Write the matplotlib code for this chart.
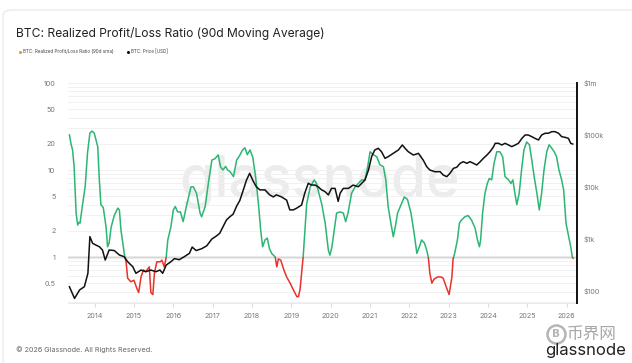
import numpy as np
import matplotlib
matplotlib.use('Agg')
import matplotlib.pyplot as plt
from matplotlib.patches import Rectangle, FancyBboxPatch
from matplotlib.lines import Line2D
from matplotlib.ticker import NullFormatter, FixedLocator

# ---------------- data ----------------
ratio_t = [2013.36, 2013.40, 2013.44, 2013.48, 2013.53, 2013.57, 2013.60, 2013.63, 2013.70, 2013.76,
           2013.82, 2013.88, 2013.93, 2013.99, 2014.08, 2014.12, 2014.16, 2014.22, 2014.29, 2014.33,
           2014.37, 2014.42, 2014.50, 2014.59, 2014.63, 2014.67, 2014.76, 2014.80, 2014.84, 2014.92,
           2015.00, 2015.07, 2015.12, 2015.18, 2015.24, 2015.30, 2015.39, 2015.43, 2015.48, 2015.52,
           2015.58, 2015.67, 2015.71, 2015.77, 2015.82, 2015.86, 2015.94, 2016.00, 2016.05, 2016.11,
           2016.18, 2016.25, 2016.34, 2016.45, 2016.51, 2016.59, 2016.68, 2016.72, 2016.81, 2016.89,
           2016.98, 2017.06, 2017.14, 2017.20, 2017.26, 2017.33, 2017.38, 2017.44, 2017.53, 2017.61,
           2017.68, 2017.76, 2017.82, 2017.88, 2017.95, 2018.02, 2018.08, 2018.12, 2018.17, 2018.22,
           2018.27, 2018.33, 2018.39, 2018.44, 2018.50, 2018.59, 2018.63, 2018.67, 2018.73, 2018.81,
           2018.88, 2018.97, 2019.05, 2019.14, 2019.18, 2019.22, 2019.30, 2019.35, 2019.39, 2019.48,
           2019.58, 2019.64, 2019.70, 2019.77, 2019.86, 2019.94, 2019.98, 2020.03, 2020.09, 2020.15,
           2020.24, 2020.32, 2020.38, 2020.44, 2020.53, 2020.62, 2020.70, 2020.79, 2020.87, 2020.94,
           2021.00, 2021.08, 2021.17, 2021.25, 2021.34, 2021.40, 2021.46, 2021.53, 2021.59, 2021.64,
           2021.70, 2021.80, 2021.87, 2021.95, 2022.04, 2022.12, 2022.19, 2022.25, 2022.31, 2022.38,
           2022.44, 2022.48, 2022.52, 2022.57, 2022.63, 2022.72, 2022.80, 2022.86, 2022.93, 2023.01,
           2023.08, 2023.11, 2023.15, 2023.22, 2023.27, 2023.32, 2023.41, 2023.49, 2023.58, 2023.67,
           2023.73, 2023.78, 2023.81, 2023.86, 2023.92, 2023.98, 2024.03, 2024.09, 2024.15, 2024.22,
           2024.30, 2024.37, 2024.43, 2024.52, 2024.58, 2024.63, 2024.68, 2024.73, 2024.79, 2024.85,
           2024.91, 2024.98, 2025.05, 2025.11, 2025.17, 2025.24, 2025.30, 2025.36, 2025.42, 2025.49,
           2025.55, 2025.61, 2025.68, 2025.74, 2025.80, 2025.86, 2025.92, 2025.98, 2026.05, 2026.10,
           2026.14, 2026.16]
ratio_v = [25.3, 20, 17, 10.9, 3.2, 2.33, 2.5, 2.45, 4.2, 6.4,
           15.7, 26.6, 28, 26.6, 18.5, 7.7, 4.0, 3.7, 2.23, 1.31,
           1.45, 2.2, 3.0, 3.65, 3.47, 2.04, 1.05, 0.88, 0.57, 0.52,
           0.54, 0.44, 0.39, 0.59, 0.71, 0.68, 0.77, 0.39, 0.37, 0.65,
           0.88, 0.88, 0.92, 0.77, 1.0, 1.57, 2.23, 3.47, 3.8, 3.3,
           3.3, 2.55, 3.96, 6.4, 6.4, 5.4, 3.2, 2.9, 3.8, 7.0,
           13.0, 13.5, 14.9, 10.9, 10, 11, 10, 9.6, 8.4, 13,
           14.5, 17, 18, 15, 17, 14, 9.1, 6.4, 3.8, 2.04,
           1.31, 1.57, 1.65, 1.26, 1.1, 1.0, 0.77, 0.95, 0.92, 0.71,
           0.59, 0.5, 0.42, 0.35, 0.35, 0.42, 1.0, 2.23, 4.1, 6.4,
           7.7, 7.0, 5.4, 4.1, 2.44, 1.2, 1.05, 1.3, 2.04, 3.2,
           3.3, 3.2, 2.55, 3.2, 5.4, 6.4, 7.0, 7.7, 7.7, 10.9,
           16.2, 15, 14.2, 11.5, 10.9, 7.7, 3.8, 2.44, 1.71, 2.2,
           3.2, 4.1, 4.9, 4.6, 3.2, 1.87, 1.1, 1.3, 1.57, 1.45,
           1.2, 1.0, 0.65, 0.5, 0.56, 0.59, 0.59, 0.57, 0.46, 0.37,
           0.59, 0.95, 1.1, 1.57, 2.44, 2.65, 2.9, 3.0, 2.65, 2.14,
           1.57, 1.31, 1.57, 3.2, 5.4, 7.0, 8.0, 7.7, 11.9, 16.2,
           16.2, 14.2, 8.4, 7.7, 7.0, 7.7, 5.4, 4.0, 5.4, 10,
           17, 21, 19.5, 13, 8.4, 5.4, 3.47, 5.4, 10, 16.2,
           19.5, 18, 16.2, 14.2, 10, 8, 5.9, 2.44, 1.71, 1.31,
           1.0, 0.97]

price_t = [2013.36, 2013.49, 2013.62, 2013.74, 2013.83, 2013.88, 2013.95, 2014.03, 2014.12, 2014.20,
           2014.27, 2014.37, 2014.50, 2014.63, 2014.75, 2014.84, 2014.97, 2015.05, 2015.18, 2015.30,
           2015.43, 2015.56, 2015.66, 2015.73, 2015.82, 2015.94, 2016.03, 2016.15, 2016.28, 2016.41,
           2016.48, 2016.58, 2016.72, 2016.85, 2016.98, 2017.10, 2017.18, 2017.35, 2017.44, 2017.52,
           2017.61, 2017.69, 2017.78, 2017.86, 2017.94, 2018.03, 2018.11, 2018.20, 2018.33, 2018.45,
           2018.54, 2018.62, 2018.75, 2018.88, 2018.96, 2019.05, 2019.13, 2019.26, 2019.34, 2019.43,
           2019.51, 2019.60, 2019.68, 2019.77, 2019.85, 2019.94, 2020.02, 2020.11, 2020.19, 2020.24,
           2020.32, 2020.45, 2020.57, 2020.70, 2020.79, 2020.87, 2020.96, 2021.04, 2021.12, 2021.21,
           2021.29, 2021.38, 2021.46, 2021.59, 2021.72, 2021.82, 2021.89, 2021.97, 2022.10, 2022.23,
           2022.35, 2022.44, 2022.52, 2022.65, 2022.78, 2022.86, 2022.95, 2023.03, 2023.12, 2023.20,
           2023.29, 2023.37, 2023.46, 2023.54, 2023.63, 2023.71, 2023.80, 2023.88, 2023.97, 2024.05,
           2024.14, 2024.18, 2024.26, 2024.35, 2024.43, 2024.52, 2024.60, 2024.69, 2024.77, 2024.86,
           2024.94, 2025.02, 2025.11, 2025.19, 2025.28, 2025.36, 2025.45, 2025.53, 2025.62, 2025.70,
           2025.79, 2025.87, 2025.96, 2026.04, 2026.10, 2026.15]
price_v = [121, 72, 105, 121, 219, 1110, 826, 767, 711, 614,
           394, 614, 600, 492, 457, 366, 293, 219, 253, 235,
           253, 235, 253, 219, 316, 366, 420, 400, 457, 530,
           700, 600, 650, 740, 1000, 1150, 1290, 2320, 2690, 3000,
           4300, 5500, 8800, 13600, 18300, 13000, 10100, 8800, 8800, 7060,
           6450, 7060, 6450, 5600, 3630, 3630, 3900, 4500, 7600, 11800,
           10900, 10900, 10100, 8800, 8200, 7060, 9400, 9400, 5300, 7600,
           9400, 9400, 10900, 10100, 11800, 13600, 21200, 38400, 51500, 55500,
           47800, 35600, 38300, 44400, 51500, 64300, 55500, 47800, 41200, 44400,
           33000, 24600, 21200, 19700, 19700, 17000, 15800, 18300, 22900, 23900,
           28500, 30700, 28500, 30700, 28500, 26500, 30700, 35600, 41200, 47800,
           59700, 69200, 69200, 64300, 69200, 64300, 59700, 64300, 69200, 86300,
           100000, 100000, 92900, 86300, 80200, 100000, 108000, 108000, 116000, 116000,
           108000, 92900, 90000, 86300, 69200, 67100]

year_ticks = list(range(2014, 2027))
ratio_ticks = [0.5, 1, 2, 5, 10, 20, 50, 100]
ratio_tick_labels = ['0.5', '1', '2', '5', '10', '20', '50', '100']
price_ticks = [1e2, 1e3, 1e4, 1e5, 1e6]
price_tick_labels = ['$100', '$1k', '$10k', '$100k', '$1m']

GREEN = '#2bb673'
RED = '#e8322c'
FONT = 'Inter'

W, H = 632, 363
fig = plt.figure(figsize=(W / 100, H / 100), dpi=100)
fig.patch.set_facecolor('white')

# card border
card = FancyBboxPatch((3 / W, -0.05), 1.1, (H - 10) / H + 0.05,
                      boxstyle='round,pad=0,rounding_size=0.015',
                      transform=fig.transFigure, facecolor='none',
                      edgecolor='#e6e6e6', linewidth=0.8, zorder=-5)
fig.patches.append(card)

L, R, T, B = 68, 577, 83, 303
ax = fig.add_axes([L / W, 1 - B / H, (R - L) / W, (B - T) / H])
ax.set_facecolor('none')
xmin, xmax = 2013.324, 2026.259
ax.set_xlim(xmin, xmax)
ax.set_yscale('log')
ax.set_ylim(0.296, 100)

ax.yaxis.set_major_locator(FixedLocator(ratio_ticks))
ax.set_yticklabels(ratio_tick_labels)
ax.yaxis.set_minor_formatter(NullFormatter())
ax.grid(which='both', axis='y', color='#efefef', lw=0.6, zorder=0)
ax.tick_params(axis='y', which='both', length=0, labelsize=5.2, labelcolor='#777', pad=9)
for lab in ax.get_yticklabels():
    lab.set_fontfamily(FONT)

ax.set_xticks(year_ticks)
ax.set_xticklabels([str(y) for y in year_ticks], fontfamily=FONT)
ax.tick_params(axis='x', length=3, color='#dddddd', labelsize=5.2, labelcolor='#777', pad=4)

for s in ['top', 'left', 'right']:
    ax.spines[s].set_visible(False)
ax.spines['bottom'].set_color('#e6e6e6')
ax.spines['bottom'].set_linewidth(0.6)

# watermark
ax.text(0.495, 0.55, 'glassnode', transform=ax.transAxes, ha='center', va='center',
        fontsize=41, color='#ececec', fontfamily=FONT, fontweight='medium', zorder=0.5)

ax.axhline(1, color='#5a5a5a', lw=0.9, zorder=1.5)

lg, = ax.plot(ratio_t, ratio_v, color=GREEN, lw=1.1, zorder=2)
lg.set_clip_path(Rectangle((xmin, 1), xmax - xmin, 1000, transform=ax.transData))
lr, = ax.plot(ratio_t, ratio_v, color=RED, lw=1.1, zorder=2)
lr.set_clip_path(Rectangle((xmin, 1e-3), xmax - xmin, 1 - 1e-3, transform=ax.transData))

ax2 = ax.twinx()
ax2.set_yscale('log')
ax2.set_ylim(58.8, 1e6)
ax2.yaxis.set_major_locator(FixedLocator(price_ticks))
ax2.set_yticklabels(price_tick_labels)
ax2.yaxis.set_minor_formatter(NullFormatter())
ax2.tick_params(axis='y', which='both', length=0, labelsize=5.2, labelcolor='#777', pad=5)
for lab in ax2.get_yticklabels():
    lab.set_fontfamily(FONT)
for s in ['top', 'left', 'bottom']:
    ax2.spines[s].set_visible(False)
ax2.spines['right'].set_color('#111111')
ax2.spines['right'].set_linewidth(1.4)
ax2.plot(price_t, price_v, color='#111111', lw=1.1, zorder=3)

# title, legend
fig.text(16 / W, 1 - 33 / H, 'BTC: Realized Profit/Loss Ratio (90d Moving Average)',
         fontsize=8.7, fontfamily=FONT, color='#222222', va='center', ha='left')


def dot(x, y, color, size=2.2):
    fig.add_artist(Line2D([x / W], [1 - y / H], marker='o', markersize=size, color=color,
                          markeredgewidth=0, transform=fig.transFigure))


dot(20, 52, '#f7931a')
fig.text(23 / W, 1 - 52 / H, 'BTC: Realized Profit/Loss Ratio (90d sma)', fontsize=3.3,
         fontfamily=FONT, color='#444', va='center', ha='left')
dot(128, 52, '#111111')
fig.text(131 / W, 1 - 52 / H, 'BTC: Price [USD]', fontsize=3.3,
         fontfamily=FONT, color='#444', va='center', ha='left')

# footer
fig.text(16 / W, 1 - 350 / H, '© 2026 Glassnode. All Rights Reserved.', fontsize=5.2,
         fontfamily=FONT, color='#666', va='center', ha='left')
fig.add_artist(Line2D([556 / W], [1 - 334 / H], marker='o', markersize=13, color='none',
                      markeredgecolor='#b5b5b5', markeredgewidth=1.8,
                      transform=fig.transFigure))
fig.text(556 / W, 1 - 334 / H, 'B', fontsize=7.5, fontweight='bold', color='#b5b5b5',
         ha='center', va='center', fontfamily='DejaVu Sans')
fig.text(567 / W, 1 - 334 / H, '币界网', fontsize=12, color='#a8a8a8', ha='left',
         va='center', fontfamily=['Noto Sans CJK SC', 'DejaVu Sans'])
fig.text(626 / W, 1 - 351 / H, 'glassnode', fontsize=12, color='#222', ha='right',
         va='center', fontfamily=FONT)

fig.savefig('out.png', dpi=100, facecolor='white')
